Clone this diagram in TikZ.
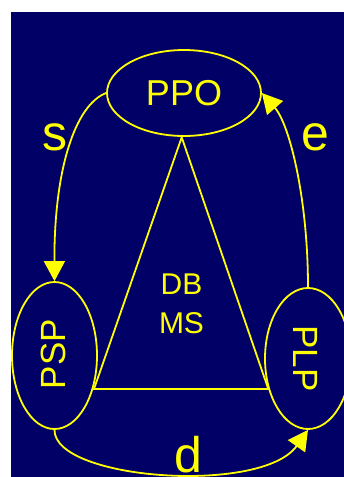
\documentclass[tikz,border=0pt]{standalone}
\usepackage{fontspec}
\setmainfont{Liberation Sans}
\usetikzlibrary{arrows.meta,shapes.geometric}
\definecolor{navy}{HTML}{000066}
\definecolor{yel}{HTML}{FFFF00}
\begin{document}
\begin{tikzpicture}[x=1pt,y=-1pt,
  ell/.style={draw=yel, ellipse, line width=1.8pt, inner sep=0pt, text=yel},
  conn/.style={draw=yel, line width=1.8pt, -{Triangle[length=20pt,width=21pt]}, fill=none},
  lbl/.style={text=yel, font=\fontsize{50}{60}\selectfont, anchor=base, inner sep=0pt},
  vtxt/.style={text=yel, font=\fontsize{35}{40}\selectfont, anchor=base, inner sep=0pt},
  tri/.style={draw=yel, line width=1.8pt, line join=miter}]
\useasboundingbox (0,0) rectangle (344,477);
\fill[white] (0,0) rectangle (344,477);
\fill[navy] (10.5,12) rectangle (344,477);
% nodes
\node[ell, minimum width=154pt, minimum height=86pt, font=\fontsize{36}{40}\selectfont] (ppo) at (184,93) {PPO};
\node[ell, minimum width=85pt, minimum height=147pt] (psp) at (54.5,355.5) {};
\node[ell, minimum width=86pt, minimum height=141pt] (plp) at (308,358.5) {};
\node[vtxt, rotate=90] (psptxt) at (65,354) {PSP};
\node[vtxt, rotate=-90] (plptxt) at (293.3,358.3) {PLP};
\node[text=yel, align=center, inner sep=0pt, font=\fontsize{30}{39}\selectfont] (dbms) at (181.5,303.5) {DB\\MS};
% triangle
\coordinate (ta) at (181.7,137.3);
\coordinate (tl) at (94,389);
\coordinate (tr) at (268.3,389);
\draw[tri] (ta) -- (tl) -- (tr) -- cycle;
% connectors
\draw[conn] (ppo.west) .. controls (75,105) and (54,170) .. (psp.north);
\draw[conn] (plp.north) .. controls (308,200) and (290,125) .. (ppo.east);
\draw[conn] (psp.south) .. controls (54,480) and (262,495) .. (plp.south);
% labels
\node[lbl] (ls) at (55,150) {s};
\node[lbl] (le) at (315,150) {e};
\node[lbl] (ld) at (188,472) {d};
\end{tikzpicture}
\end{document}
